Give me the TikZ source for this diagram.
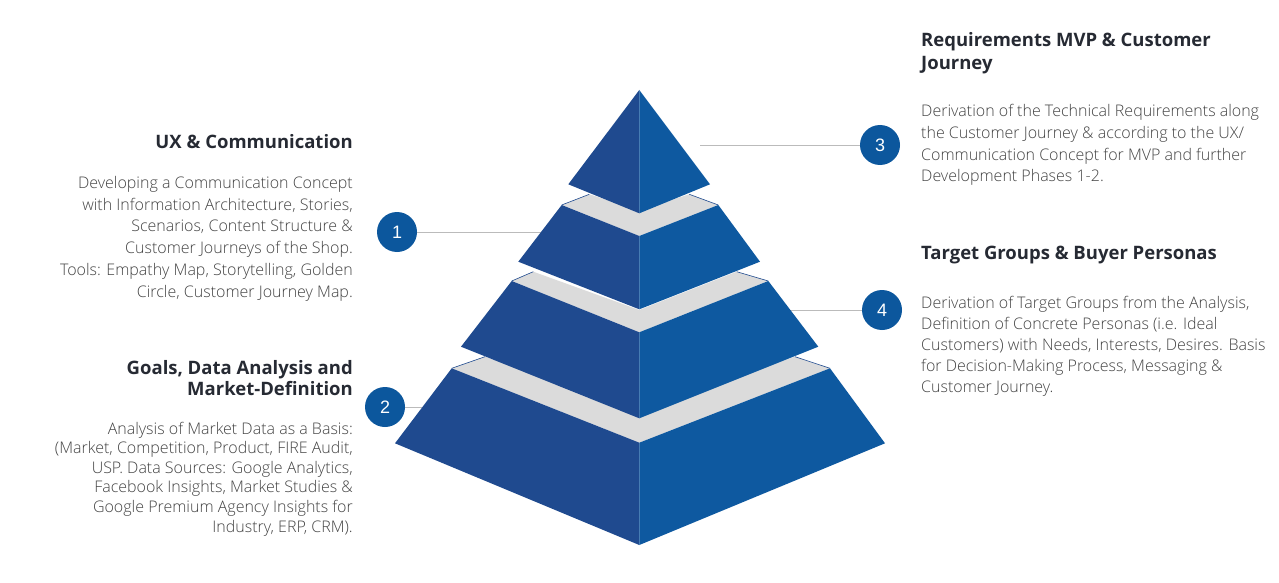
\documentclass[tikz,border=0pt]{standalone}
\usepackage{fontspec}
\setmainfont{Open Sans}
\IfFontExistsTF{Open Sans Light}{\newfontfamily\bodyfont{Open Sans Light}}{\newfontfamily\bodyfont{Open Sans}}
\newfontfamily\numfont{Liberation Sans}
\definecolor{faceL}{HTML}{1F4A8F}
\definecolor{faceR}{HTML}{0E59A0}
\definecolor{topface}{HTML}{DBDBDB}
\definecolor{circ}{HTML}{0C579D}
\definecolor{headc}{HTML}{262A33}
\definecolor{bodyc}{HTML}{444444}
\definecolor{leader}{HTML}{BBBBBB}
\begin{document}
\begin{tikzpicture}[x=1pt,y=-1pt,
  heading/.style={inner sep=0pt,text=headc,font=\bfseries\fontsize{18.5}{22.7}\selectfont},
  bodytext/.style={inner sep=0pt,text=bodyc,font=\bodyfont\fontsize{16}{21.7}\selectfont},
  numcirc/.style={circle,fill=circ,minimum size=40pt,inner sep=0pt,text=white,font=\numfont\fontsize{18}{18}\selectfont},
  leaderline/.style={draw=leader,line width=0.8pt},
  lface/.style={fill=faceL},
  rface/.style={fill=faceR},
  tface/.style={fill=topface},
  edge/.style={draw=faceL,line width=0.6pt}]
\useasboundingbox[fill=white] (0,0) rectangle (1279,583);

% numbered circles and leaders (drawn first, pyramid covers line ends)
\node[numcirc] (c1) at (397,232) {1};
\node[numcirc] (c2) at (385,407) {2};
\node[numcirc] (c3) at (880,145) {3};
\node[numcirc] (c4) at (882,310) {4};
\coordinate (p1) at (560,232);
\coordinate (p2) at (440,407);
\coordinate (p3) at (700,145);
\coordinate (p4) at (780,310);
\draw[leaderline] (c1) -- (p1);
\draw[leaderline] (c2) -- (p2);
\draw[leaderline] (c3) -- (p3);
\draw[leaderline] (c4) -- (p4);

% tier 4 (bottom)
\path[tface] (451.7,368.3) -- (485,356.7) -- (639.3,410) -- (795,356.7) -- (830,368.3) -- (639.3,442.7) -- cycle;
\draw[edge] (451.7,368.3) -- (485,356.7);
\draw[edge] (830,368.3) -- (795,356.7);
\path[lface] (451.7,368.3) -- (639.3,442.7) -- (639.3,545) -- (395,443.3) -- cycle;
\path[rface] (639.3,442.7) -- (830,368.3) -- (885,443.3) -- (639.3,545) -- cycle;

% tier 3
\path[tface] (511.7,281) -- (533.3,271.7) -- (639.3,310) -- (736.7,271.7) -- (768.3,281) -- (639.3,332.3) -- cycle;
\draw[edge] (511.7,281) -- (533.3,271.7);
\draw[edge] (768.3,281) -- (736.7,271.7);
\path[lface] (511.7,281) -- (639.3,332.3) -- (639.3,418.3) -- (461,346.7) -- cycle;
\path[rface] (639.3,332.3) -- (768.3,281) -- (818.3,346.7) -- (639.3,418.3) -- cycle;

% tier 2
\path[tface] (561.7,205) -- (589.3,194.3) -- (639.3,210) -- (689.3,194.3) -- (718.3,205) -- (639.3,236) -- cycle;
\draw[edge] (561.7,205) -- (589.3,194.3);
\draw[edge] (718.3,205) -- (689.3,194.3);
\path[lface] (561.7,205) -- (639.3,236) -- (639.3,309.3) -- (518.3,261.7) -- cycle;
\path[rface] (639.3,236) -- (718.3,205) -- (760,261.7) -- (639.3,309.3) -- cycle;

% tier 1 (top)
\path[lface] (639.3,90) -- (639.3,213.3) -- (568.3,184.3) -- cycle;
\path[rface] (639.3,90) -- (710,184.3) -- (639.3,213.3) -- cycle;

% texts left (base anchor = last line's baseline)
\node[heading,anchor=base east] (h1) at (353,148) {UX \& Communication};
\node[bodytext,anchor=base east,align=right] (b1) at (353,297) {Developing a Communication Concept\\with Information Architecture, Stories,\\Scenarios, Content Structure \&\\Customer Journeys of the Shop.\\Tools: Empathy Map, Storytelling, Golden\\Circle, Customer Journey Map.};
\node[heading,anchor=base east,align=right,font=\bfseries\fontsize{18.5}{21}\selectfont] (h2) at (353,395) {Goals, Data Analysis and\\Market-Definition};
\node[bodytext,anchor=base east,align=right,font=\bodyfont\fontsize{16}{19.6}\selectfont] (b2) at (353,532) {Analysis of Market Data as a Basis:\\(Market, Competition, Product, FIRE Audit,\\USP. Data Sources: Google Analytics,\\Facebook Insights, Market Studies \&\\Google Premium Agency Insights for\\Industry, ERP, CRM).};

% texts right
\node[heading,anchor=base west,align=left] (h3) at (921,69.4) {Requirements MVP \& Customer\\Journey};
\node[bodytext,anchor=base west,align=left] (b3) at (921,181.8) {Derivation of the Technical Requirements along\\the Customer Journey \& according to the UX/\\Communication Concept for MVP and further\\Development Phases 1-2.};
\node[heading,anchor=base west] (h4) at (921,259.3) {Target Groups \& Buyer Personas};
\node[bodytext,anchor=base west,align=left,font=\bodyfont\fontsize{16}{21.1}\selectfont] (b4) at (921,392.7) {Derivation of Target Groups from the Analysis,\\Definition of Concrete Personas (i.e. Ideal\\Customers) with Needs, Interests, Desires. Basis\\for Decision-Making Process, Messaging \&\\Customer Journey.};
\end{tikzpicture}
\end{document}
